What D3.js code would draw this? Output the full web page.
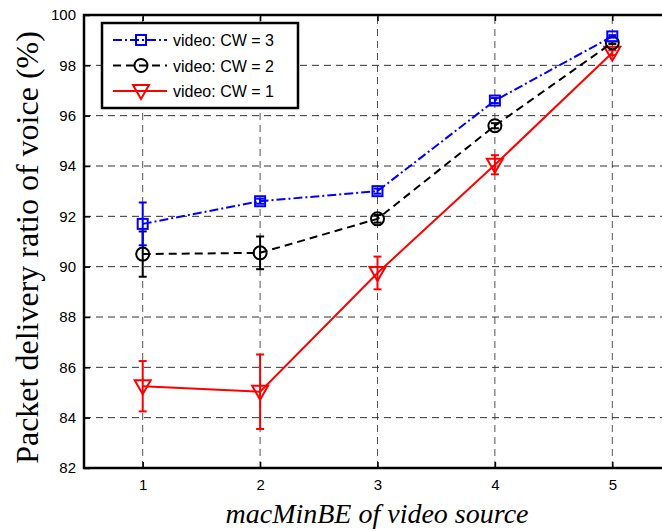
<!DOCTYPE html>
<html>
<head>
<meta charset="utf-8">
<script src="https://cdnjs.cloudflare.com/ajax/libs/d3/7.8.5/d3.min.js"></script>
<style>
  body { margin: 0; background: #fff; }
  svg { display: block; }
</style>
</head>
<body>
<div id="chart"></div>
<script>
// macMinBE values on the x axis
var xValues = [1, 2, 3, 4, 5];
var yTicks = [82, 84, 86, 88, 90, 92, 94, 96, 98, 100];

// packet delivery ratio (%)
var cw3 = [91.7, 92.6, 93.0, 96.6, 99.15];
var cw3Err = [0.85, 0.1, 0.1, 0.1, 0.05];
var cw2 = [90.5, 90.55, 91.9, 95.6, 98.9];
var cw2Err = [0.9, 0.65, 0.15, 0.1, 0.05];
var cw1 = [85.25, 85.03, 89.75, 94.05, 98.5];
var cw1Err = [1.0, 1.48, 0.65, 0.38, 0.1];

var width = 662, height = 531;
var margin = {left: 84, top: 15, right: -9, bottom: 63};

var svg = d3.select("#chart").append("svg")
    .attr("width", width)
    .attr("height", height);

var x = d3.scaleLinear().domain([0.5, 5.5]).range([margin.left, width - margin.right]);
var y = d3.scaleLinear().domain([82, 100]).range([height - margin.bottom, margin.top]);

var x0 = x(0.5), x1 = x(5.5), y0 = y(82), y1 = y(100);

// dashed grid
svg.append("g").selectAll("line.gx")
    .data(xValues).enter().append("line")
    .attr("x1", d => x(d)).attr("x2", d => x(d))
    .attr("y1", y0).attr("y2", y1)
    .attr("stroke", "#555").attr("stroke-width", 1)
    .attr("stroke-dasharray", "7,5");

svg.append("g").selectAll("line.gy")
    .data(yTicks.slice(1, -1)).enter().append("line")
    .attr("x1", x0).attr("x2", x1)
    .attr("y1", d => y(d)).attr("y2", d => y(d))
    .attr("stroke", "#333").attr("stroke-width", 1)
    .attr("stroke-dasharray", "7,5");

// axes, ticks pointing inside like matlab
var xAxis = svg.append("g")
    .attr("transform", "translate(0," + y0 + ")")
    .call(d3.axisBottom(x).tickValues(xValues).tickFormat(d3.format("d"))
      .tickSizeInner(-6).tickSizeOuter(0).tickPadding(11));
var xTop = svg.append("g")
    .attr("transform", "translate(0," + y1 + ")")
    .call(d3.axisTop(x).tickValues(xValues).tickSizeInner(-6).tickSizeOuter(0).tickFormat(""));
var yAxis = svg.append("g")
    .attr("transform", "translate(" + x0 + ",0)")
    .call(d3.axisLeft(y).tickValues(yTicks).tickFormat(d3.format("d"))
      .tickSizeInner(-6).tickSizeOuter(0).tickPadding(8));

[xAxis, xTop, yAxis].forEach(function(g) {
  g.select(".domain").remove();
  g.selectAll(".tick line").attr("stroke", "#000").attr("stroke-width", 1.5);
  g.selectAll("text")
    .attr("fill", "#000")
    .style("font-family", "'Liberation Sans', Arial, sans-serif")
    .style("font-size", "15px");
});

// frame
svg.append("rect")
    .attr("x", x0).attr("y", y1)
    .attr("width", x1 - x0).attr("height", y0 - y1)
    .attr("fill", "none").attr("stroke", "#000").attr("stroke-width", 2.5);

var series = [
  {name: "video: CW = 3", vals: cw3, err: cw3Err, color: "#0000ff", dash: "9,3,2,3", marker: "square"},
  {name: "video: CW = 2", vals: cw2, err: cw2Err, color: "#000000", dash: "8,5", marker: "circle"},
  {name: "video: CW = 1", vals: cw1, err: cw1Err, color: "#ff0000", dash: null, marker: "triangle"}
];

function drawMarker(g, type, color, cx, cy) {
  if (type === "square") {
    g.append("rect").attr("x", cx - 5).attr("y", cy - 5).attr("width", 10).attr("height", 10)
      .attr("fill", "none").attr("stroke", color).attr("stroke-width", 2);
  } else if (type === "circle") {
    g.append("circle").attr("cx", cx).attr("cy", cy).attr("r", 6.5)
      .attr("fill", "none").attr("stroke", color).attr("stroke-width", 2);
  } else {
    g.append("path")
      .attr("d", "M" + (cx - 8) + "," + (cy - 6) + "L" + (cx + 8) + "," + (cy - 6) + "L" + cx + "," + (cy + 8) + "Z")
      .attr("fill", "none").attr("stroke", color).attr("stroke-width", 2);
  }
}

var line = d3.line().x((d, i) => x(xValues[i])).y(d => y(d));

// draw red first so blue sits on top like the figure
series.slice().reverse().forEach(function(s) {
  var g = svg.append("g");
  g.append("path")
    .datum(s.vals)
    .attr("d", line)
    .attr("fill", "none")
    .attr("stroke", s.color)
    .attr("stroke-width", 2)
    .attr("stroke-dasharray", s.dash);

  s.vals.forEach(function(v, i) {
    var cx = x(xValues[i]);
    var top = y(v + s.err[i]), bot = y(v - s.err[i]);
    g.append("line").attr("x1", cx).attr("x2", cx).attr("y1", top).attr("y2", bot)
      .attr("stroke", s.color).attr("stroke-width", 2);
    [top, bot].forEach(function(yy) {
      g.append("line").attr("x1", cx - 4).attr("x2", cx + 4).attr("y1", yy).attr("y2", yy)
        .attr("stroke", s.color).attr("stroke-width", 2);
    });
    drawMarker(g, s.marker, s.color, cx, y(v));
  });
});

// legend
var leg = svg.append("g").attr("transform", "translate(102,23)");
leg.append("rect").attr("width", 196).attr("height", 85)
  .attr("fill", "#fff").attr("stroke", "#000").attr("stroke-width", 2.5);
series.forEach(function(s, i) {
  var ly = 17 + i * 25.5;
  leg.append("line").attr("x1", 11).attr("x2", 65).attr("y1", ly).attr("y2", ly)
    .attr("stroke", s.color).attr("stroke-width", 2).attr("stroke-dasharray", s.dash);
  drawMarker(leg, s.marker, s.color, 39, ly);
  leg.append("text").attr("x", 71).attr("y", ly + 6)
    .text(s.name)
    .style("font-family", "'Liberation Sans', Arial, sans-serif")
    .style("font-size", "16px");
});

// axis titles
svg.append("text")
  .attr("transform", "translate(38," + ((y0 + y1) / 2 + 6) + ") rotate(-90)")
  .attr("text-anchor", "middle")
  .style("font-family", "'Liberation Serif', 'Times New Roman', serif")
  .style("font-size", "32px")
  .text("Packet delivery ratio of voice (%)");

svg.append("text")
  .attr("x", 377).attr("y", 523)
  .attr("text-anchor", "middle")
  .style("font-family", "'Liberation Serif', 'Times New Roman', serif")
  .style("font-style", "italic")
  .style("font-size", "28px")
  .text("macMinBE of video source");
</script>
</body>
</html>
